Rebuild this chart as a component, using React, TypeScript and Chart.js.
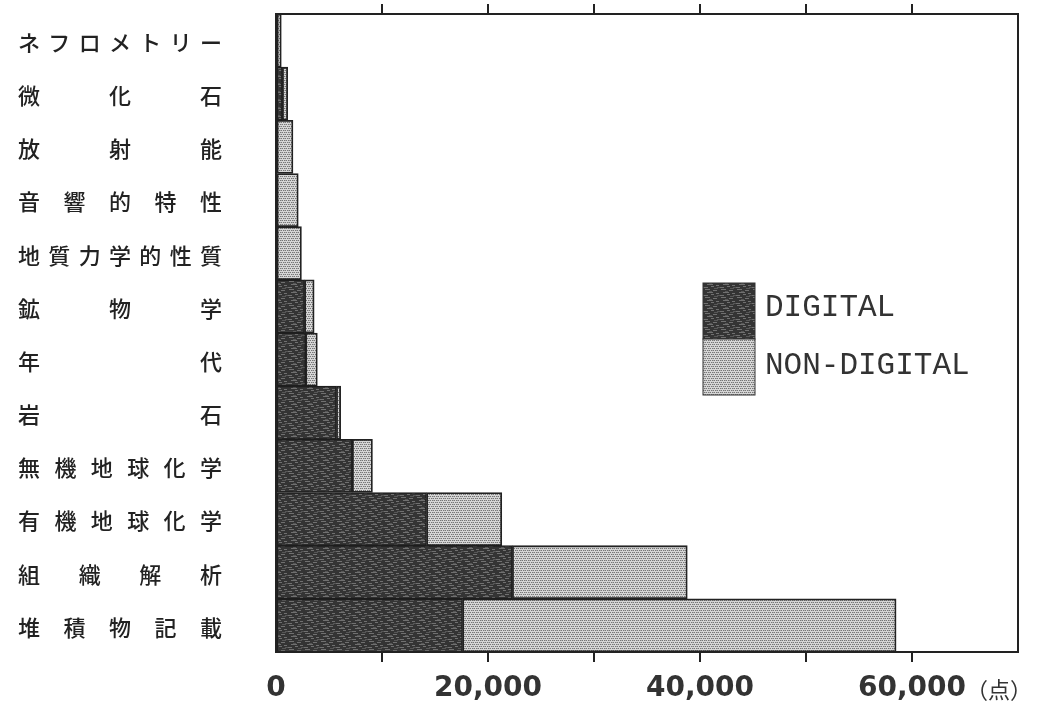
import React, { useEffect, useRef } from "react";
import { Chart, registerables } from "chart.js";

Chart.register(...registerables);

const categories = [
  "ネフロメトリー",
  "微化石",
  "放射能",
  "音響的特性",
  "地質力学的性質",
  "鉱物学",
  "年代",
  "岩石",
  "無機地球化学",
  "有機地球化学",
  "組織解析",
  "堆積物記載",
];
const digital = [0, 600, 0, 0, 0, 2700, 2800, 5700, 7200, 14200, 22300, 17600];
const nonDigital = [500, 500, 1600, 2100, 2400, 900, 1100, 400, 1900, 7100, 16500, 40900];
const seriesNames = ["DIGITAL", "NON-DIGITAL"];
const xMax = 70000;
const xStep = 10000;
const labeledTicks = [0, 20000, 40000, 60000];
const unitLabel = "（点）";

function makeDarkPattern(): CanvasPattern | string {
  const c = document.createElement("canvas");
  c.width = 16;
  c.height = 8;
  const g = c.getContext("2d");
  if (!g) return "#444";
  g.fillStyle = "#343434";
  g.fillRect(0, 0, 16, 8);
  g.fillStyle = "#707070";
  g.fillRect(1, 1, 5, 1);
  g.fillRect(9, 2, 4, 1);
  g.fillRect(3, 4, 6, 1);
  g.fillRect(12, 5, 3, 1);
  g.fillRect(0, 7, 4, 1);
  g.fillRect(7, 6, 3, 1);
  g.fillStyle = "#565656";
  g.fillRect(10, 0, 4, 1);
  g.fillRect(5, 3, 3, 1);
  g.fillRect(13, 7, 3, 1);
  return g.createPattern(c, "repeat") || "#444";
}

function makeLightPattern(): CanvasPattern | string {
  const c = document.createElement("canvas");
  c.width = 4;
  c.height = 4;
  const g = c.getContext("2d");
  if (!g) return "#c0c0c0";
  g.fillStyle = "#d6d6d6";
  g.fillRect(0, 0, 4, 4);
  g.fillStyle = "#767676";
  g.fillRect(0, 0, 1, 1);
  g.fillRect(2, 0, 1, 1);
  g.fillRect(1, 2, 1, 1);
  g.fillRect(3, 2, 1, 1);
  g.fillStyle = "#aaaaaa";
  g.fillRect(1, 0, 1, 1);
  g.fillRect(0, 2, 1, 1);
  return g.createPattern(c, "repeat") || "#c0c0c0";
}

export default function App() {
  const ref = useRef<HTMLCanvasElement | null>(null);

  useEffect(() => {
    if (!ref.current) return;
    const dark = makeDarkPattern();
    const light = makeLightPattern();

    const labelPlugin = {
      id: "jpLabels",
      afterDraw(chart: any) {
        const ctx = chart.ctx;
        const y = chart.scales.y;
        const area = chart.chartArea;
        ctx.save();
        // frame
        ctx.strokeStyle = "#222";
        ctx.lineWidth = 2;
        ctx.strokeRect(area.left, area.top, area.right - area.left, area.bottom - area.top);
        // category labels, justified
        ctx.fillStyle = "#222";
        ctx.font = '500 22px "Noto Sans CJK JP"';
        ctx.textBaseline = "middle";
        ctx.textAlign = "left";
        const left = 18;
        const right = 222;
        categories.forEach((cat, i) => {
          const py = y.getPixelForValue(i) + 2;
          const chars = Array.from(cat);
          const n = chars.length;
          const cw = 22;
          chars.forEach((ch, k) => {
            const px = n === 1 ? left : left + (k * (right - left - cw)) / (n - 1);
            ctx.fillText(ch, px, py);
          });
        });
        // unit label
        const x = chart.scales.x;
        ctx.font = '22px "Noto Sans CJK JP"';
        ctx.fillStyle = "#333";
        ctx.fillText(unitLabel, x.getPixelForValue(60000) + 54, 690);
        // legend
        const lx = 703;
        const ly = 283;
        const bw = 52;
        const bh = 56;
        const fills = [dark, light];
        seriesNames.forEach((name, i) => {
          ctx.fillStyle = fills[i];
          ctx.fillRect(lx, ly + i * bh, bw, bh);
          ctx.strokeStyle = "#333";
          ctx.lineWidth = 1;
          ctx.strokeRect(lx, ly + i * bh, bw, bh);
          ctx.fillStyle = "#333";
          ctx.font = '31px "Liberation Mono"';
          ctx.textBaseline = "middle";
          ctx.fillText(name, lx + 62, ly + i * bh + 25 + i * 2);
        });
        ctx.restore();
      },
    };

    const tickColor = (c: any) =>
      c.tick && (c.tick.value === 0 || c.tick.value === xMax) ? "rgba(0,0,0,0)" : "#222";

    const chart = new Chart(ref.current, {
      type: "bar",
      data: {
        labels: categories,
        datasets: [
          {
            label: seriesNames[0],
            data: digital,
            backgroundColor: dark as any,
            borderColor: "#1e1e1e",
            borderWidth: 1.5,
            borderSkipped: false,
            barPercentage: 1,
            categoryPercentage: 1,
          },
          {
            label: seriesNames[1],
            data: nonDigital,
            backgroundColor: light as any,
            borderColor: "#222",
            borderWidth: 1.8,
            borderSkipped: false,
            barPercentage: 1,
            categoryPercentage: 1,
          },
        ],
      },
      options: {
        indexAxis: "y",
        animation: false,
        responsive: true,
        maintainAspectRatio: false,
        layout: { padding: { left: 276, right: 29, top: 0, bottom: 0 } },
        plugins: { legend: { display: false }, tooltip: { enabled: false }, title: { display: false } },
        scales: {
          y: {
            type: "category",
            stacked: true,
            display: false,
          },
          x: {
            type: "linear",
            stacked: true,
            position: "bottom",
            min: 0,
            max: xMax,
            ticks: {
              stepSize: xStep,
              padding: 10,
              autoSkip: false,
              maxRotation: 0,
              minRotation: 0,
              color: "#333",
              font: { family: "DejaVu Sans", size: 28, weight: "bold" },
              callback: (v: any) =>
                labeledTicks.includes(Number(v)) ? Number(v).toLocaleString("en-US") : "",
            },
            grid: {
              drawOnChartArea: false,
              drawTicks: true,
              tickLength: 10,
              color: tickColor,
              lineWidth: 2,
            },
            border: { display: true, color: "#222", width: 2 },
            afterFit: (s: any) => {
              s.height = 58;
            },
          },
          x2: {
            type: "linear",
            position: "top",
            min: 0,
            max: xMax,
            ticks: { stepSize: xStep, display: false },
            grid: {
              drawOnChartArea: false,
              drawTicks: true,
              tickLength: 10,
              color: tickColor,
              lineWidth: 2,
            },
            border: { display: true, color: "#222", width: 2 },
            afterFit: (s: any) => {
              s.height = 14;
            },
          },
        },
      } as any,
      plugins: [labelPlugin],
    });
    return () => chart.destroy();
  }, []);

  return (
    <div style={{ position: "absolute", left: 0, top: 0, width: 1047, height: 710, background: "#fff" }}>
      <canvas ref={ref} />
    </div>
  );
}
